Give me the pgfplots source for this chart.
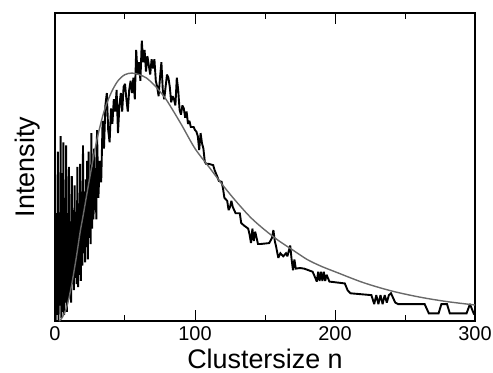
\documentclass[border=0pt]{standalone}
\usepackage{fontspec}
\setmainfont{Liberation Sans}
\usepackage{pgfplots}
\pgfplotsset{compat=1.18}
\usetikzlibrary{calc}
\definecolor{fitgray}{RGB}{105,105,105}
\begin{document}
\begin{tikzpicture}
\begin{axis}[
  name=ax,
  scale only axis,
  width=420bp, height=308bp,
  xmin=0, xmax=300, ymin=0, ymax=1,
  xtick={0,100,200,300},
  minor xtick={50,150,250},
  ytick=\empty,
  tick align=inside,
  xtick pos=both,
  major tick length=11bp,
  minor tick length=6bp,
  axis line style={line width=1.6bp},
  every tick/.style={line width=1bp, black},
  every minor tick/.style={line width=1bp, black},
  /pgf/number format/assume math mode=true,
  tick label style={font=\fontsize{20}{22}\selectfont},
  xticklabel style={yshift=-2bp},
  xlabel={Clustersize n},
  ylabel={Intensity},
  label style={font=\fontsize{27}{30}\selectfont},
  x label style={at={(axis description cs:0.5,-0.091)}, anchor=north, inner sep=0pt},
  y label style={at={(axis description cs:-0.034,0.5)}, anchor=south, inner sep=0pt},
  clip=true,
]
\addplot[black, line width=1.9bp, line join=miter, miter limit=2] coordinates {
(0.5,0.0)(1,0.35)(1.5,0.02)(2,0.55)(2.5,0.0)(3,0.30)(3.5,0.05)(4,0.60)(4.5,0.01)(5,0.48)
(5.5,0.03)(6,0.58)(6.5,0.02)(7,0.40)(7.5,0.06)(8,0.57)(8.5,0.03)(9,0.35)(9.5,0.07)(10,0.50)
(10.5,0.09)(11,0.30)(11.5,0.06)(12,0.47)(12.5,0.12)(13,0.36)(13.5,0.10)(14,0.44)(14.5,0.14)
(15,0.34)(15.5,0.12)(16,0.50)(16.5,0.11)(17,0.38)(17.5,0.15)(18,0.51)(18.5,0.13)(19,0.42)
(19.5,0.18)(20,0.57)(20.5,0.22)(21,0.40)(21.5,0.19)(22,0.46)(22.5,0.24)(23,0.52)(23.5,0.20)
(24,0.55)(24.5,0.27)(25,0.45)(25.5,0.25)(26,0.61)(26.5,0.30)(27,0.50)(27.5,0.33)(28,0.56)
(28.5,0.36)(29,0.49)(29.5,0.33)(30,0.62)
(31,0.40)(32,0.52)(33,0.45)(34,0.65)(35,0.56)(36,0.70)(37,0.74)(38,0.62)(39,0.58)(40,0.69)
(41,0.64)(42,0.72)(43,0.68)(44,0.75)(45,0.61)(46,0.70)(47,0.74)(48,0.68)(49,0.76)(50,0.77)
(51,0.72)(52,0.68)(53,0.75)(54,0.78)(55,0.74)(56,0.79)(57,0.72)(58,0.88)(59,0.80)(60,0.84)
(61,0.78)(62,0.91)(63,0.84)(64,0.88)(65,0.81)(66,0.86)(67,0.83)(68,0.80)(69,0.85)(70,0.82)
(71,0.85)(72,0.78)(73,0.76)(74,0.73)(75,0.79)(76,0.84)(77,0.75)(78,0.72)(79,0.76)(80,0.80)
(81,0.79)(82,0.76)(83,0.71)(84,0.73)(85,0.72)(86,0.70)(87,0.79)(88,0.75)(89,0.685)(90,0.67)
(91,0.70)(92,0.69)(93,0.66)(94,0.68)(95,0.64)(96,0.65)(97,0.63)(98,0.63)(99,0.63)(100,0.62)
(101,0.615)(102,0.60)(103,0.555)(104,0.61)(105,0.577)(106,0.56)(107,0.517)(108,0.51)(110,0.51)
(113,0.506)(114,0.49)(116,0.468)(117,0.455)(119,0.452)(120,0.43)(121,0.40)(123,0.39)(124,0.36)
(125,0.37)(126,0.39)(127,0.37)(129,0.35)(132,0.35)(133,0.318)(135,0.31)(138,0.30)(139,0.28)
(140,0.253)(141,0.30)(142,0.26)(143,0.29)(145,0.25)(147,0.25)(153,0.253)(155,0.27)(156,0.295)
(157,0.26)(158,0.24)(159.5,0.205)(161,0.22)(163,0.21)(165,0.22)(166,0.21)(168,0.245)(169,0.20)
(170,0.165)(171,0.20)(172,0.17)(175,0.172)(178,0.17)(184,0.16)(185,0.15)(187,0.128)(188,0.16)
(189,0.13)(190,0.16)(191,0.13)(192,0.16)(193,0.13)(194,0.15)(196,0.128)(207,0.122)(209,0.10)
(211,0.09)(226,0.084)(228,0.055)(229.5,0.084)(231,0.055)(232.5,0.084)(234,0.055)(235.5,0.084)
(237,0.06)(238.5,0.084)(240,0.09)(243,0.06)(245,0.055)(264,0.055)(267,0.025)(274,0.025)
(276,0.055)(280,0.055)(282,0.025)(294,0.025)(296.4,0.055)(299,0.025)(300,0.03)
};
\addplot[fitgray, line width=1.4bp, smooth] coordinates {
(3,0.0)(5,0.01)(8,0.04)(10,0.075)(12,0.12)(15,0.20)(18,0.29)(20,0.34)(25,0.47)
(30,0.59)(35,0.68)(40,0.74)(45,0.78)(50,0.80)(55,0.805)(60,0.80)(65,0.79)(70,0.77)
(75,0.745)(80,0.715)(90,0.64)(100,0.56)(110,0.50)(120,0.44)(130,0.385)(140,0.335)
(150,0.295)(160,0.26)(170,0.23)(180,0.20)(190,0.178)(200,0.16)(220,0.125)(240,0.098)
(260,0.078)(280,0.063)(300,0.052)
};
\end{axis}
\pgfresetboundingbox
\path ($(ax.south west)+(-55bp,-52bp)$) rectangle ($(ax.north east)+(18bp,13bp)$);
\end{tikzpicture}
\end{document}
